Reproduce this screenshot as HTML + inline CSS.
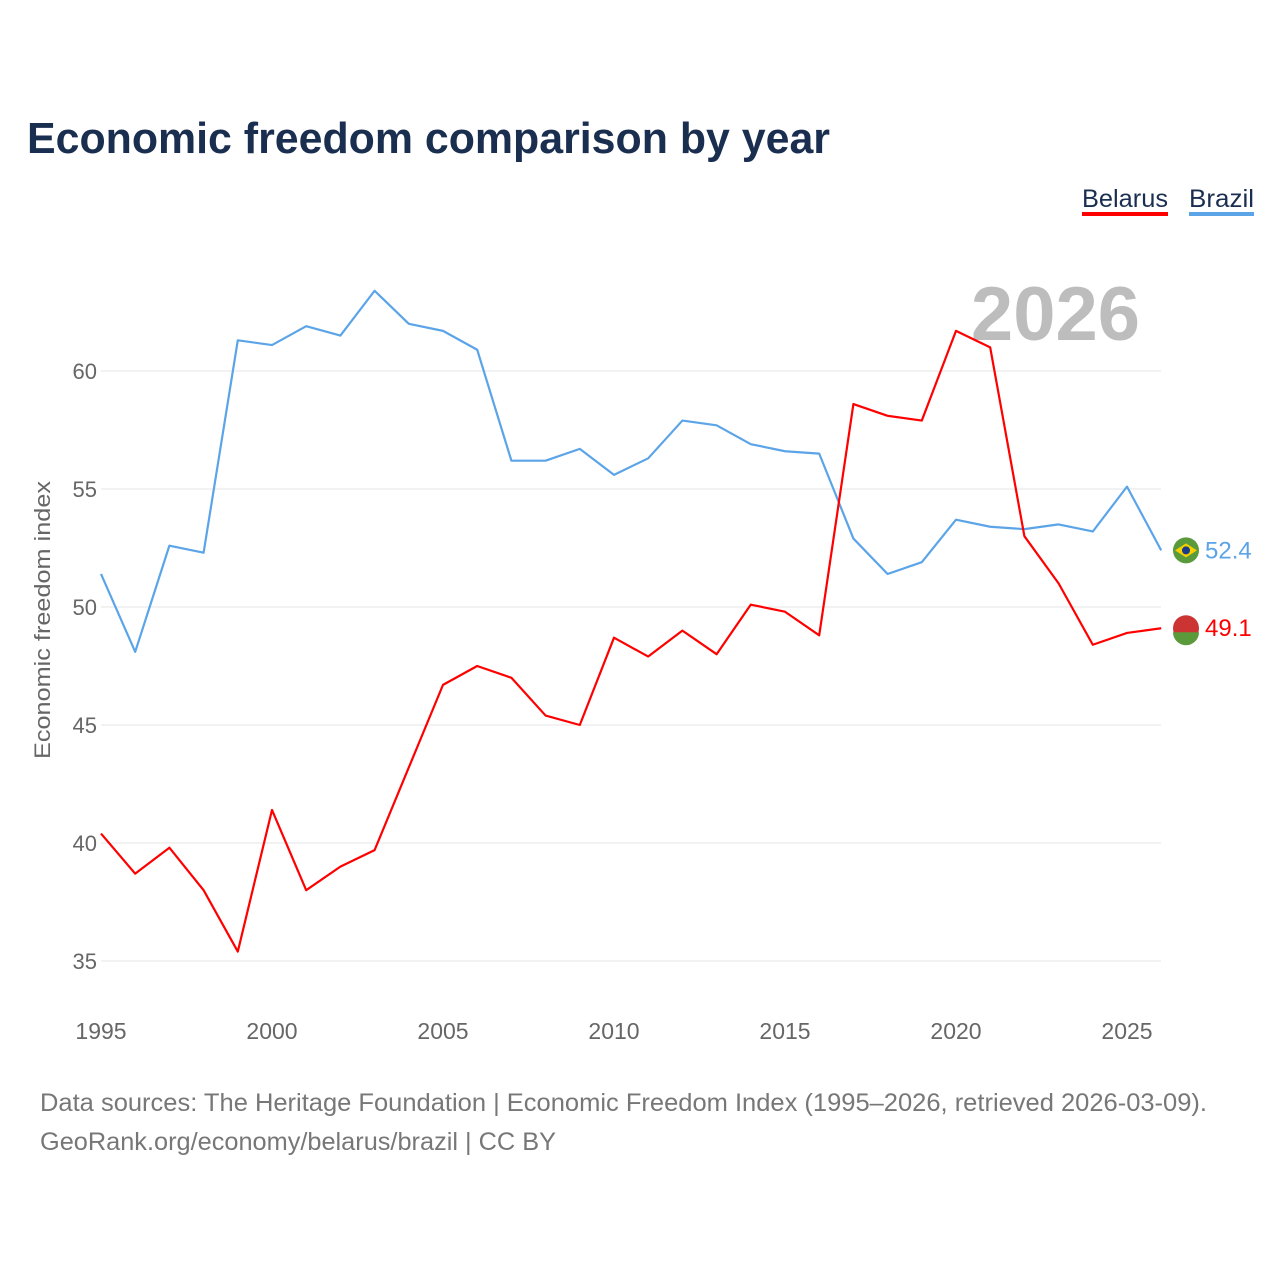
<!DOCTYPE html>
<html><head><meta charset="utf-8"><style>
body{margin:0;background:#fff;font-family:"Liberation Sans",sans-serif;}
svg text{font-family:"Liberation Sans",sans-serif;}
</style></head><body>
<svg id="chart" width="1280" height="1280" viewBox="0 0 1280 1280">
<text x="27" y="153" font-size="44" font-weight="bold" fill="#1a2e50" textLength="803" lengthAdjust="spacingAndGlyphs">Economic freedom comparison by year</text>
<g>
<text x="1082" y="207" font-size="25" fill="#1a2e50" textLength="86" lengthAdjust="spacingAndGlyphs">Belarus</text>
<rect x="1082" y="212" width="86" height="4" fill="#f00"/>
<text x="1189" y="207" font-size="25" fill="#1a2e50" textLength="65" lengthAdjust="spacingAndGlyphs">Brazil</text>
<rect x="1189" y="212" width="65" height="4" fill="#5ba4e8"/>
</g>
<text x="1140" y="340" font-size="76" font-weight="bold" fill="#bdbdbd" text-anchor="end">2026</text>
<g id="grid"></g><g id="xt"></g>
<text transform="translate(50,620) rotate(-90)" font-size="22" fill="#666" text-anchor="middle" textLength="278" lengthAdjust="spacingAndGlyphs">Economic freedom index</text>
<g id="lines"></g>
<text x="40" y="1111" font-size="25" fill="#777" textLength="1167" lengthAdjust="spacingAndGlyphs">Data sources: The Heritage Foundation | Economic Freedom Index (1995–2026, retrieved 2026-03-09).</text>
<text x="40" y="1150" font-size="25" fill="#777" textLength="516" lengthAdjust="spacingAndGlyphs">GeoRank.org/economy/belarus/brazil | CC BY</text>
</svg>
<script>
const years=[];for(let y=1995;y<=2026;y++)years.push(y);
const brazil=[51.4,48.1,52.6,52.3,61.3,61.1,61.9,61.5,63.4,62.0,61.7,60.9,56.2,56.2,56.7,55.6,56.3,57.9,57.7,56.9,56.6,56.5,52.9,51.4,51.9,53.7,53.4,53.3,53.5,53.2,55.1,52.4];
const belarus=[40.4,38.7,39.8,38.0,35.4,41.4,38.0,39.0,39.7,43.2,46.7,47.5,47.0,45.4,45.0,48.7,47.9,49.0,48.0,50.1,49.8,48.8,58.6,58.1,57.9,61.7,61.0,53.0,51.0,48.4,48.9,49.1];
const yTicks=[35,40,45,50,55,60];
const xTicks=[1995,2000,2005,2010,2015,2020,2025];
const NS='http://www.w3.org/2000/svg';
const X=y=>101+(y-1995)*(1127-101)/30;
const Y=v=>371+(60-v)*23.6;
function mk(t,a,p){const e=document.createElementNS(NS,t);for(const k in a)e.setAttribute(k,a[k]);p.appendChild(e);return e;}
const grid=document.getElementById('grid');
yTicks.forEach(v=>{
 const l=mk('line',{x1:101,x2:1161,y1:Y(v),y2:Y(v),stroke:'#e6e6e6','stroke-width':1},grid);
 
 
 const t=mk('text',{x:97,y:Y(v)+8,'font-size':22,fill:'#666','text-anchor':'end'},grid);t.textContent=v;
 
 
});
const xt=document.getElementById('xt');
xTicks.forEach(v=>{
 const t=mk('text',{x:X(v),y:1039,'font-size':23,fill:'#666','text-anchor':'middle'},xt);t.textContent=v;
 
 
});
const lines=document.getElementById('lines');
function series(data,col,name){
 const p=mk('polyline',{points:data.map((v,i)=>X(years[i])+','+Y(v)).join(' '),fill:'none',stroke:col,'stroke-width':2.2,'stroke-linejoin':'round'},lines);
 
 
 const last=data[data.length-1],cy=Y(last);
 const c=mk('circle',{cx:1186,cy:cy,r:13,fill:name==='brazil'?'#5a9a3a':'#cc3333'},lines);
 
 
 if(name==='brazil'){mk('polygon',{points:`1175,${cy} 1186,${cy-7} 1197,${cy} 1186,${cy+7}`,fill:'#f5d000'},lines);mk('circle',{cx:1186,cy:cy,r:4,fill:'#1a3a8a'},lines);}
 else{mk('path',{d:`M1173,${cy+4} h26 a13,13 0 0 1 -26,0z`,fill:'#5a9a3a'},lines);}
 const t=mk('text',{x:1205,y:cy+8,'font-size':24,fill:col},lines);t.textContent=last.toFixed(1);
 
 
}
series(brazil,'#5ba4e8','brazil');
series(belarus,'#ff0000','belarus');
</script>
</body></html>
